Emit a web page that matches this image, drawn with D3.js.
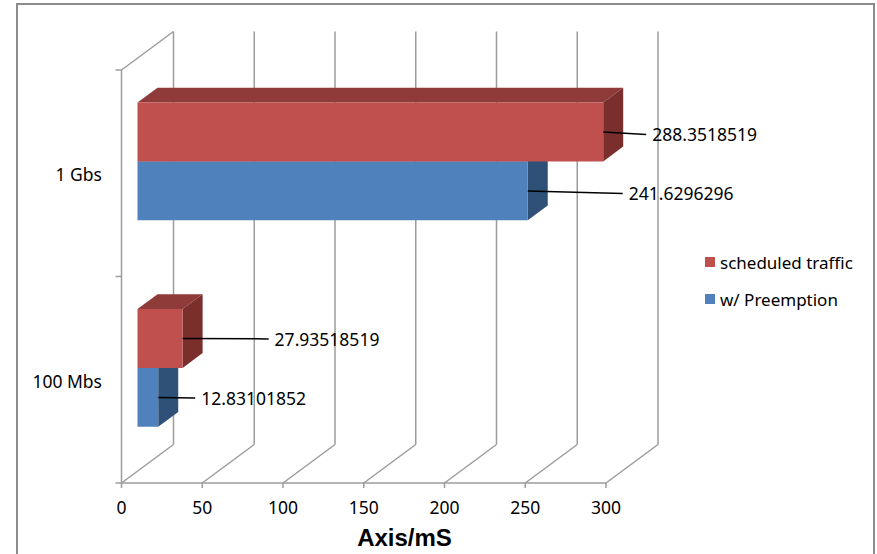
<!DOCTYPE html>
<html>
<head>
<meta charset="utf-8">
<script src="https://cdn.jsdelivr.net/npm/d3@7"></script>
<style>
  body { margin: 0; background: #fff; }
  svg { display: block; }
  text { font-family: "Noto Sans", "Open Sans", sans-serif; fill: #000; }
</style>
</head>
<body>
<svg id="chart" width="877" height="554"></svg>
<script>
// Chart data
const categories = ['1 Gbs', '100 Mbs'];
const seriesNames = ['scheduled traffic', 'w/ Preemption'];
const scheduledValues = [288.3518519, 27.93518519];
const preemptionValues = [241.6296296, 12.83101852];
const xTicks = [0, 50, 100, 150, 200, 250, 300];
const xTitle = 'Axis/mS';

const seriesValues = [scheduledValues, preemptionValues];
const colors = {
  front: ['#c0504d', '#4f81bd'],
  top: ['#8f3b39', '#3b6190'],
  side: ['#7a2f2d', '#2f5077']
};

const svg = d3.select('#chart');

// Chart area border
svg.append('rect')
  .attr('x', 17).attr('y', 4)
  .attr('width', 857).attr('height', 600)
  .attr('fill', '#fff')
  .attr('stroke', '#8c8c8c')
  .attr('stroke-width', 2);

// front plane scales + oblique depth offset
const x = d3.scaleLinear().domain([0, 300]).range([121.5, 606]);
const y = d3.scaleBand().domain(categories).range([70, 483])
  .paddingInner(0.429).paddingOuter(0.2145);
const ySeries = d3.scaleBand().domain(seriesNames).range([0, y.bandwidth()]);
const depth = { dx: 52, dy: 38.5 };
const barZ = [0.3077, 0.6923];
const P = (v, py, z) => [x(v) + depth.dx * z, py - depth.dy * z];
const yTop = y.range()[0], yBot = y.range()[1];

const grid = svg.append('g')
  .attr('stroke', '#9c9c9c')
  .attr('stroke-width', 1.5)
  .attr('fill', 'none');

// back wall gridlines and floor diagonals
xTicks.forEach(t => {
  const a = P(t, yTop, 1), b = P(t, yBot, 1), c = P(t, yBot, 0);
  grid.append('line').attr('x1', a[0]).attr('y1', a[1]).attr('x2', b[0]).attr('y2', b[1]);
  grid.append('line').attr('x1', c[0]).attr('y1', c[1]).attr('x2', b[0]).attr('y2', b[1]);
  grid.append('line').attr('x1', c[0]).attr('y1', c[1]).attr('x2', c[0]).attr('y2', c[1] + 5);
});

// front baseline, left axis and its top edge
grid.append('line').attr('x1', x(0)).attr('y1', yBot).attr('x2', x(300)).attr('y2', yBot);
grid.append('line').attr('x1', x(0)).attr('y1', yTop).attr('x2', x(0)).attr('y2', yBot);
const tl = P(0, yTop, 1);
grid.append('line').attr('x1', x(0)).attr('y1', yTop).attr('x2', tl[0]).attr('y2', tl[1]);
d3.range(categories.length + 1).forEach(i => {
  const ty = yTop + i * y.step();
  grid.append('line').attr('x1', x(0) - 6).attr('y1', ty).attr('x2', x(0)).attr('y2', ty);
});

// x tick labels
svg.append('g').selectAll('text')
  .data(xTicks)
  .enter().append('text')
  .attr('x', d => x(d))
  .attr('y', 508)
  .attr('dy', '0.36em')
  .attr('text-anchor', 'middle')
  .style('font-size', '17.5px')
  .text(d => d);

// category labels
svg.append('g').selectAll('text')
  .data(categories)
  .enter().append('text')
  .attr('x', 102)
  .attr('y', d => y(d) - y.step() * 0.2145 + y.step() / 2 + 1.5)
  .attr('dy', '0.36em')
  .attr('text-anchor', 'end')
  .style('font-size', '17.5px')
  .text(d => d);

// bars: draw lower series first so the upper bar hides its top face
const bars = svg.append('g');
const pts = arr => arr.map(p => p.join(',')).join(' ');
categories.forEach((cat, ci) => {
  [1, 0].forEach(si => {
    const v = seriesValues[si][ci];
    const y0 = y(cat) + ySeries(seriesNames[si]);
    const y1 = y0 + ySeries.bandwidth();
    const [zf, zb] = barZ;
    bars.append('polygon')
      .attr('points', pts([P(0, y0, zf), P(v, y0, zf), P(v, y0, zb), P(0, y0, zb)]))
      .attr('fill', colors.top[si]);
    bars.append('polygon')
      .attr('points', pts([P(v, y0, zf), P(v, y0, zb), P(v, y1, zb), P(v, y1, zf)]))
      .attr('fill', colors.side[si]);
    bars.append('polygon')
      .attr('points', pts([P(0, y0, zf), P(v, y0, zf), P(v, y1, zf), P(0, y1, zf)]))
      .attr('fill', colors.front[si]);
  });
});

// data labels with leader lines (lengths as placed in the original)
const leadLength = { '1 Gbs': [43, 95], '100 Mbs': [86, 37] };
const leadDrop = { '1 Gbs': 2.5, '100 Mbs': 0.5 };
const labels = svg.append('g');
categories.forEach((cat, ci) => {
  seriesNames.forEach((s, si) => {
    const v = seriesValues[si][ci];
    const ym = y(cat) + ySeries(s) + ySeries.bandwidth() / 2;
    const start = P(v, ym, barZ[0]);
    const ex = start[0] + leadLength[cat][si];
    const ey = start[1] + leadDrop[cat];
    labels.append('line')
      .attr('x1', start[0]).attr('y1', start[1])
      .attr('x2', ex).attr('y2', ey)
      .attr('stroke', '#000')
      .attr('stroke-width', 1.5);
    labels.append('text')
      .attr('x', ex + 6)
      .attr('y', ey + 0.5)
      .attr('dy', '0.36em')
      .style('font-size', '17.5px')
      .text(String(v));
  });
});

// legend
const legend = svg.append('g').attr('transform', 'translate(705, 257)');
seriesNames.forEach((s, i) => {
  const row = legend.append('g').attr('transform', `translate(0, ${i * 37})`);
  row.append('rect').attr('width', 10).attr('height', 10).attr('fill', colors.front[i]);
  row.append('text')
    .attr('x', 15).attr('y', 5.5)
    .attr('dy', '0.36em')
    .style('font-size', '17px')
    .text(s);
});

// axis title
svg.append('text')
  .attr('x', 404.5)
  .attr('y', 546)
  .attr('text-anchor', 'middle')
  .style('font-family', '"Liberation Sans", Arial, sans-serif')
  .style('font-weight', 'bold')
  .style('font-size', '24px')
  .text(xTitle);
</script>
</body>
</html>
